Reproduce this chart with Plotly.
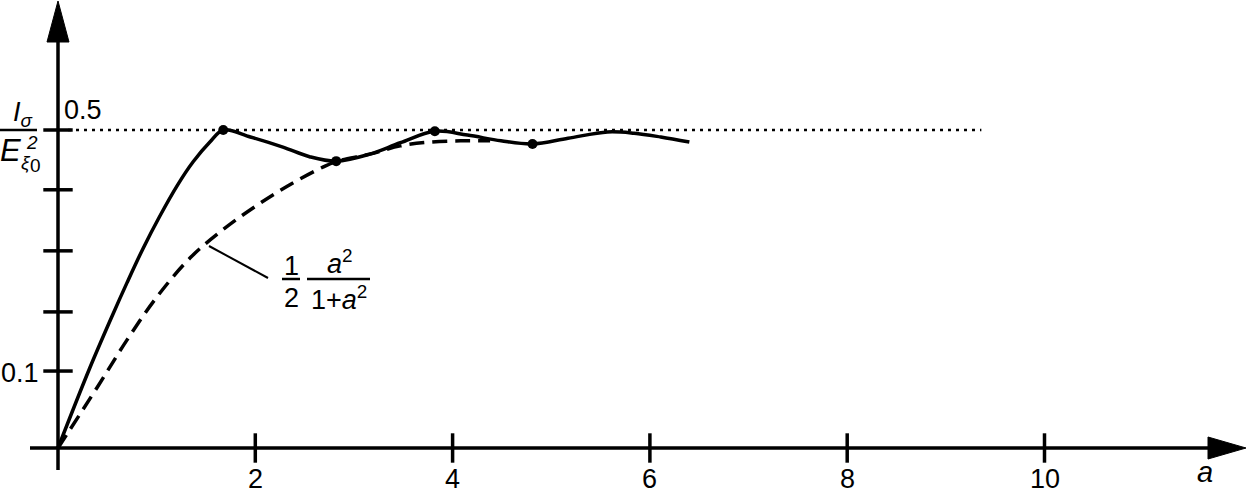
import plotly.graph_objects as go

# solid curve
a_solid = [0, 0.32, 0.55, 0.70, 0.86, 1.03, 1.21, 1.37, 1.54, 1.675, 1.95, 2.28, 2.55, 2.82,
           3.16, 3.47, 3.82, 4.15, 4.49, 4.81, 5.17, 5.57, 5.84, 6.11, 6.40]
i_solid = [0, 0.125, 0.208, 0.260, 0.313, 0.364, 0.413, 0.450, 0.481, 0.500, 0.489, 0.473, 0.458, 0.451,
           0.462, 0.480, 0.498, 0.492, 0.483, 0.478, 0.487, 0.497, 0.495, 0.489, 0.481]

# dashed curve 1/2 a^2/(1+a^2)
a_dash = [0, 0.40, 0.70, 1.00, 1.34, 1.67, 2.02, 2.35, 2.69, 2.83, 3.16, 3.47, 3.77, 4.08, 4.38]
i_dash = [0, 0.096, 0.170, 0.237, 0.299, 0.343, 0.382, 0.414, 0.442, 0.451, 0.462, 0.475, 0.481, 0.483, 0.483]

# marked points on the solid curve
a_dots = [1.675, 2.82, 3.82, 4.81]
i_dots = [0.500, 0.451, 0.498, 0.478]

x_ticks = [2, 4, 6, 8, 10]
x_labels = ["2", "4", "6", "8", "10"]
y_ticks = [0.121, 0.214, 0.310, 0.406, 0.5]
y_level = 0.5
dotted_end = 9.36

W, H = 1247, 493
PX_A = 98.65    # pixels per unit of a
PX_Y = 636.0    # pixels per unit of I
X0, Y0 = 58, 448


def ax(px):
    return (px - X0) / PX_A


def ay(py):
    return (Y0 - py) / PX_Y


FONT = "Liberation Sans, Arial, sans-serif"
fig = go.Figure()

# axes
fig.add_trace(go.Scatter(x=[ax(30), ax(1212)], y=[0, 0], mode="lines",
                         line=dict(color="black", width=3.5), hoverinfo="skip"))
fig.add_trace(go.Scatter(x=[0, 0], y=[ay(470), ay(38)], mode="lines",
                         line=dict(color="black", width=3.5), hoverinfo="skip"))

# ticks crossing the axes
fig.add_trace(go.Scatter(x=x_ticks, y=[0] * len(x_ticks), mode="markers",
                         marker=dict(symbol="line-ns", size=21, line=dict(color="black", width=3.5)),
                         hoverinfo="skip"))
fig.add_trace(go.Scatter(x=[0] * len(y_ticks), y=y_ticks, mode="markers",
                         marker=dict(symbol="line-ew", size=21, line=dict(color="black", width=3.5)),
                         hoverinfo="skip"))

# dotted level 0.5
fig.add_trace(go.Scatter(x=[ax(68), dotted_end], y=[y_level, y_level], mode="lines",
                         line=dict(color="black", width=2.5, dash="3px,5px"), hoverinfo="skip"))

# curves
fig.add_trace(go.Scatter(x=a_dash, y=i_dash, mode="lines", line_shape="spline",
                         line=dict(color="black", width=3.5, dash="15px,8px"), hoverinfo="skip"))
fig.add_trace(go.Scatter(x=a_solid, y=i_solid, mode="lines", line_shape="spline",
                         line=dict(color="black", width=3.5), hoverinfo="skip"))
fig.add_trace(go.Scatter(x=a_dots, y=i_dots, mode="markers",
                         marker=dict(color="black", size=10), hoverinfo="skip"))

# arrowheads
fig.add_shape(type="path", xref="x", yref="y", fillcolor="black", line=dict(color="black", width=1),
              path=f"M {ax(47)},{ay(42)} L {ax(58)},{ay(1)} L {ax(69)},{ay(42)} Z")
fig.add_shape(type="path", xref="x", yref="y", fillcolor="black", line=dict(color="black", width=1),
              path=f"M {ax(1208)},{ay(437)} L {ax(1246)},{ay(448)} L {ax(1208)},{ay(459)} Z")

# leader line for the formula
fig.add_shape(type="line", xref="x", yref="y", x0=ax(209), y0=ay(246), x1=ax(268), y1=ay(278),
              line=dict(color="black", width=2))
# fraction bars
for x0, x1, y in [(0, 37, 130), (282, 300, 279), (307, 370, 279)]:
    fig.add_shape(type="line", xref="x", yref="y", x0=ax(x0), y0=ay(y), x1=ax(x1), y1=ay(y),
                  line=dict(color="black", width=2.5))


def label(px, py, text, size=27, xanchor="center"):
    fig.add_annotation(x=ax(px), y=ay(py), xref="x", yref="y", text=text, showarrow=False,
                       xanchor=xanchor, yanchor="middle", font=dict(family=FONT, size=size, color="black"))


for t, lab in zip(x_ticks, x_labels):
    fig.add_annotation(x=t, y=ay(479), xref="x", yref="y", text=lab, showarrow=False,
                       yanchor="middle", font=dict(family=FONT, size=27, color="black"))
label(41, 373, "0.1", xanchor="right")
label(62, 110, "0.5", xanchor="left")
label(1205, 472, "<i>a</i>", size=29)

# y label I_sigma / E^2_xi0
label(23, 114, "<i>I<sub>σ</sub></i>", size=27)
label(10, 150, "<i>E</i>", size=31)
label(32, 142, "<i>2</i>", size=19)
label(26, 162, "<i>ξ</i>", size=19)
label(35, 165, "0", size=19)

# formula 1/2 a^2/(1+a^2)
label(291, 266, "1")
label(291, 298, "2")
label(340, 262, "<i>a</i><sup>2</sup>")
label(339, 298, "1+<i>a</i><sup>2</sup>")

fig.update_layout(
    width=W, height=H,
    margin=dict(l=0, r=0, t=0, b=0),
    paper_bgcolor="white", plot_bgcolor="white",
    showlegend=False,
    xaxis=dict(range=[ax(0), ax(W)], visible=False, fixedrange=True),
    yaxis=dict(range=[ay(H), ay(0)], visible=False, fixedrange=True),
)

# drop the default page margin so the figure sits at the window corner
fig.write_html("out.html", config={"displayModeBar": False},
               post_script="document.body.style.margin = '0';")
